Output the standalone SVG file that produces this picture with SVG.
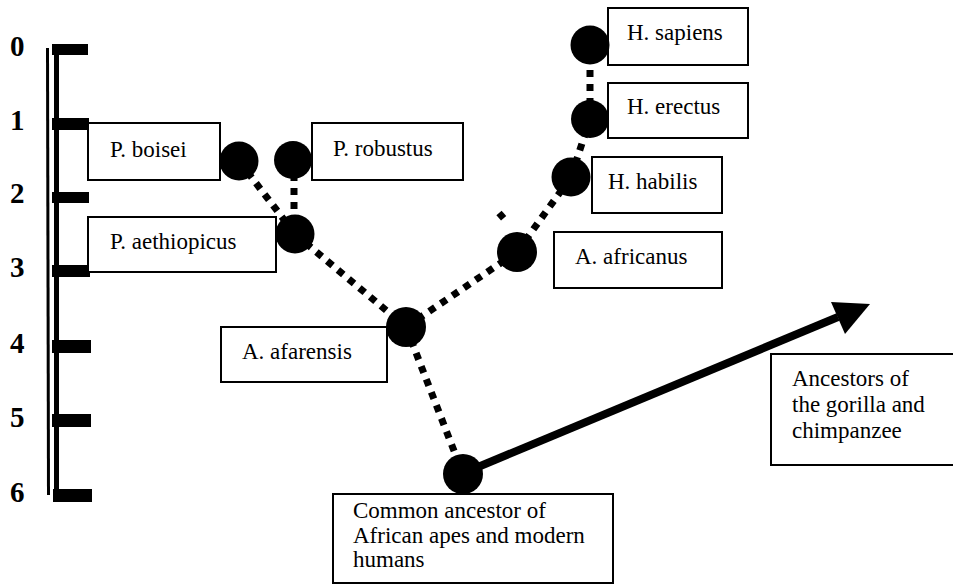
<svg xmlns="http://www.w3.org/2000/svg" width="953" height="584" viewBox="0 0 953 584">
<style>
.box{fill:#fff;stroke:#000;stroke-width:2}
.lbl{font-family:"Liberation Serif","Times New Roman",serif;font-size:23px;fill:#000}
.num{font-family:"Liberation Serif","Times New Roman",serif;font-size:29px;font-weight:bold;fill:#000}
.dot{fill:none;stroke:#000;stroke-width:7;stroke-dasharray:7 7}
.node{fill:#000}
.tick{fill:#000}
</style>
<rect width="953" height="584" fill="#fff"/>
<g id="scale">
<line x1="47.5" y1="48" x2="48.5" y2="495" stroke="#000" stroke-width="3"/>
<line x1="56.5" y1="44" x2="56.5" y2="501" stroke="#000" stroke-width="5"/>
<rect class="tick" x="52" y="44" width="36" height="11"/>
<rect class="tick" x="52" y="118" width="37" height="12"/>
<rect class="tick" x="52" y="192" width="37" height="11"/>
<rect class="tick" x="52" y="265" width="38" height="12"/>
<rect class="tick" x="52" y="340" width="39" height="13"/>
<rect class="tick" x="52" y="414" width="39" height="13"/>
<rect class="tick" x="53" y="489" width="39" height="13"/>
<text class="num" x="10" y="56">0</text>
<text class="num" x="10" y="130">1</text>
<text class="num" x="10" y="203">2</text>
<text class="num" x="10" y="277">3</text>
<text class="num" x="10" y="353">4</text>
<text class="num" x="10" y="427">5</text>
<text class="num" x="10" y="502">6</text>
</g>
<g id="connectors">
<line class="dot" x1="239" y1="161" x2="295" y2="234"/>
<line class="dot" x1="294" y1="160" x2="294" y2="234"/>
<line class="dot" x1="295" y1="234" x2="406" y2="327"/>
<line class="dot" x1="406" y1="327" x2="463" y2="474"/>
<line class="dot" x1="406" y1="327" x2="517" y2="252"/>
<line class="dot" x1="517" y1="252" x2="571" y2="177"/>
<line class="dot" x1="571" y1="177" x2="590" y2="119"/>
<line class="dot" x1="590" y1="119" x2="590" y2="45"/>
<line class="dot" x1="499" y1="213" x2="507" y2="222"/>
<line x1="478" y1="467" x2="838" y2="317" stroke="#000" stroke-width="8"/>
<polygon points="870,304 831,302 845,334" fill="#000"/>
</g>
<g id="p-boisei"><rect class="box" x="88" y="123" width="132" height="57"/><text class="lbl" x="110" y="157">P. boisei</text><circle class="node" cx="239" cy="161" r="19.5"/></g>
<g id="p-robustus"><rect class="box" x="312" y="123" width="151" height="57"/><text class="lbl" x="333" y="156">P. robustus</text><circle class="node" cx="293" cy="160" r="19"/></g>
<g id="p-aethiopicus"><rect class="box" x="88" y="217" width="188" height="55"/><text class="lbl" x="110" y="249">P. aethiopicus</text><circle class="node" cx="295" cy="234" r="19.5"/></g>
<g id="a-afarensis"><rect class="box" x="221" y="327" width="166" height="55"/><text class="lbl" x="242" y="359">A. afarensis</text><circle class="node" cx="406" cy="327" r="20"/></g>
<g id="common-ancestor"><rect class="box" x="333" y="494" width="280" height="89"/><text class="lbl" x="353" y="518">Common ancestor of</text><text class="lbl" x="353" y="543">African apes and modern</text><text class="lbl" x="353" y="567">humans</text><circle class="node" cx="463" cy="474" r="20"/></g>
<g id="a-africanus"><rect class="box" x="554" y="232" width="168" height="56"/><text class="lbl" x="575" y="264">A. africanus</text><circle class="node" cx="517" cy="252" r="20"/></g>
<g id="h-habilis"><rect class="box" x="592" y="157" width="130" height="56"/><text class="lbl" x="608" y="189">H. habilis</text><circle class="node" cx="571" cy="177" r="19.5"/></g>
<g id="h-erectus"><rect class="box" x="608" y="83" width="140" height="55"/><text class="lbl" x="627" y="114">H. erectus</text><circle class="node" cx="590" cy="119" r="19"/></g>
<g id="h-sapiens"><rect class="box" x="608" y="8" width="140" height="57"/><text class="lbl" x="627" y="40">H. sapiens</text><circle class="node" cx="590" cy="45" r="19.5"/></g>
<g id="gorilla-chimp"><rect class="box" x="771" y="354" width="190" height="111"/><text class="lbl" x="792" y="386">Ancestors of</text><text class="lbl" x="792" y="412">the gorilla and</text><text class="lbl" x="792" y="438">chimpanzee</text></g>
</svg>
